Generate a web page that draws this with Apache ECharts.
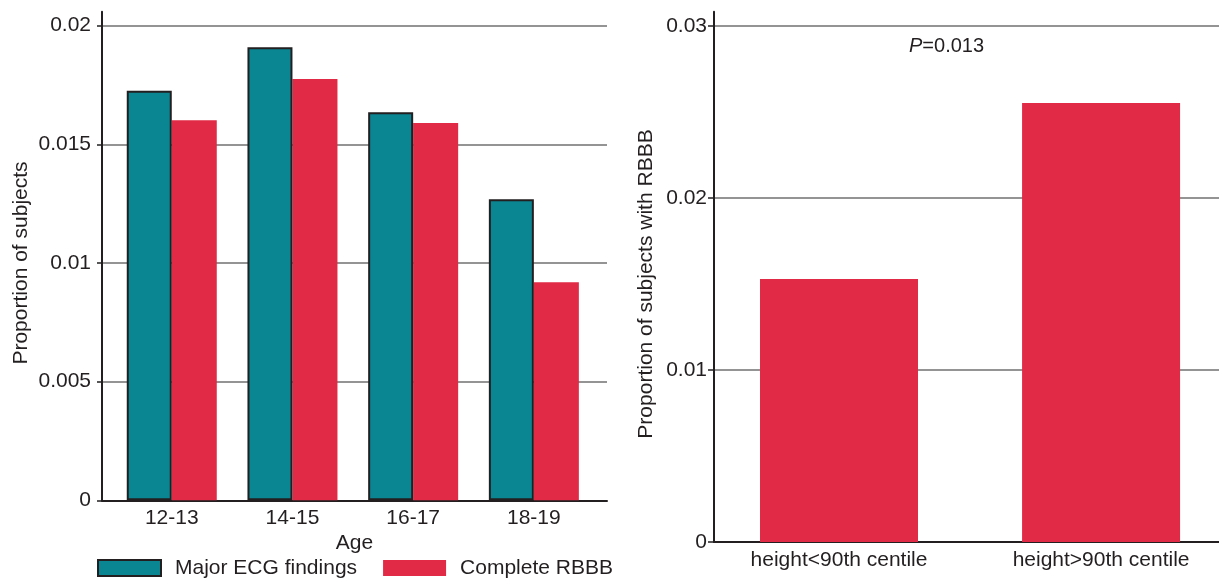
<!DOCTYPE html>
<html>
<head>
<meta charset="utf-8">
<script src="https://cdn.jsdelivr.net/npm/echarts@6/dist/echarts.min.js"></script>
<style>
html,body{margin:0;padding:0;background:#fff;}
#c{width:1219px;height:579px;}
</style>
</head>
<body>
<div id="c"></div>
<script>
// ---- data ----
const ageCategories = ['12-13', '14-15', '16-17', '18-19'];
const majorEcgFindings = [0.01726, 0.01909, 0.01635, 0.01269];
const completeRbbb = [0.01602, 0.01775, 0.01590, 0.00919];
const leftYTicks = [0, 0.005, 0.01, 0.015, 0.02];

const heightCategories = ['height<90th centile', 'height>90th centile'];
const rbbbByHeight = [0.01529, 0.02552];
const rightYTicks = [0, 0.01, 0.02, 0.03];
const pValueText = '0.013';

const seriesNames = ['Major ECG findings', 'Complete RBBB'];

// ---- style ----
const FONT = '"Liberation Sans", Arial, Helvetica, sans-serif';
const TEXT = '#231f20';
const TEAL = '#0a8592';
const RED = '#e02a46';
const GRID = '#707070';

const chart = echarts.init(document.getElementById('c'), null, {renderer: 'canvas'});

const idx = arr => arr.map((_, i) => i);
const pairs = arr => arr.map((v, i) => [i, v]);

const option = {
  animation: false,
  backgroundColor: '#fff',
  textStyle: {fontFamily: FONT, color: TEXT},
  grid: [
    {left: 102, top: 25.7, right: 612, bottom: 78.7},   // left chart
    {left: 714, top: 26, right: 0, bottom: 37},          // right chart
    {left: 102, top: 11.7, right: 612, bottom: 78.7},   // left axis-line extension
    {left: 714, top: 11.7, right: 0, bottom: 37}         // right axis-line extension
  ],
  xAxis: [
    {
      type: 'value', gridIndex: 0, min: -0.578, max: 3.606,
      axisLine: {show: true, onZero: false, lineStyle: {color: TEXT, width: 2}},
      axisTick: {show: false},
      splitLine: {show: false},
      axisLabel: {
        customValues: idx(ageCategories), margin: 7,
        fontSize: 21, color: TEXT, fontFamily: FONT,
        formatter: v => ageCategories[Math.round(v)]
      },
      name: 'Age', nameLocation: 'middle', nameGap: 27,
      nameTextStyle: {fontSize: 21, color: TEXT, fontFamily: FONT}
    },
    {
      type: 'value', gridIndex: 1, min: -0.477, max: 1.450,
      axisLine: {show: true, onZero: false, lineStyle: {color: TEXT, width: 2}},
      axisTick: {show: false},
      splitLine: {show: false},
      axisLabel: {
        customValues: idx(heightCategories), margin: 8,
        fontSize: 21, color: TEXT, fontFamily: FONT,
        formatter: v => heightCategories[Math.round(v)]
      }
    },
    {type: 'value', gridIndex: 2, min: 0, max: 1, show: false},
    {type: 'value', gridIndex: 3, min: 0, max: 1, show: false}
  ],
  yAxis: [
    {
      type: 'value', gridIndex: 0, min: leftYTicks[0], max: leftYTicks[leftYTicks.length - 1],
      interval: leftYTicks[1] - leftYTicks[0],
      axisLine: {show: false, onZero: false},
      axisTick: {show: true, length: 5, lineStyle: {color: TEXT, width: 1.5}},
      splitLine: {show: true, lineStyle: {color: GRID, width: 1.6}},
      axisLabel: {margin: 11, fontSize: 21, color: TEXT, fontFamily: FONT},
      name: 'Proportion of subjects', nameLocation: 'middle', nameGap: 70,
      nameTextStyle: {fontSize: 21, color: TEXT, fontFamily: FONT}
    },
    {
      type: 'value', gridIndex: 1, min: rightYTicks[0], max: rightYTicks[rightYTicks.length - 1],
      interval: rightYTicks[1] - rightYTicks[0],
      axisLine: {show: false, onZero: false},
      axisTick: {show: true, length: 6, lineStyle: {color: TEXT, width: 1.5}},
      splitLine: {show: true, lineStyle: {color: GRID, width: 1.6}},
      axisLabel: {margin: 7, fontSize: 21, color: TEXT, fontFamily: FONT},
      name: 'Proportion of subjects with RBBB', nameLocation: 'middle', nameGap: 57,
      nameTextStyle: {fontSize: 21, color: TEXT, fontFamily: FONT}
    },
    {
      type: 'value', gridIndex: 2, min: 0, max: 1,
      axisLine: {show: true, onZero: false, lineStyle: {color: TEXT, width: 2}},
      axisTick: {show: false}, axisLabel: {show: false}, splitLine: {show: false}
    },
    {
      type: 'value', gridIndex: 3, min: 0, max: 1,
      axisLine: {show: true, onZero: false, lineStyle: {color: TEXT, width: 2}},
      axisTick: {show: false}, axisLabel: {show: false}, splitLine: {show: false}
    }
  ],
  legend: {
    left: 97, top: 557.5, padding: 0,
    itemWidth: 63, itemHeight: 16, itemGap: 26,
    icon: 'rect',
    data: seriesNames,
    textStyle: {fontSize: 21, color: TEXT, fontFamily: FONT, padding: [0, 0, 0, 9]}
  },
  series: [
    {
      name: seriesNames[0], type: 'bar', xAxisIndex: 0, yAxisIndex: 0,
      data: pairs(majorEcgFindings), barWidth: 45, barGap: '0%',
      itemStyle: {color: TEAL, borderColor: TEXT, borderWidth: 2},
      z: 3
    },
    {
      name: seriesNames[1], type: 'bar', xAxisIndex: 0, yAxisIndex: 0,
      data: pairs(completeRbbb), barWidth: 45, barGap: '0%',
      itemStyle: {color: RED},
      z: 2
    },
    {
      name: 'RBBB by height', type: 'bar', xAxisIndex: 1, yAxisIndex: 1,
      data: pairs(rbbbByHeight), barWidth: 158,
      itemStyle: {color: RED}
    }
  ],
  graphic: [
    {
      type: 'text', left: 949 - 40, top: 36, z: 10,
      style: {
        text: '{i|P}=' + pValueText,
        font: '20px ' + FONT,
        fill: TEXT,
        rich: {i: {fontStyle: 'italic', fontSize: 20, fontFamily: FONT, fill: TEXT}}
      }
    }
  ]
};

chart.setOption(option);
</script>
</body>
</html>
